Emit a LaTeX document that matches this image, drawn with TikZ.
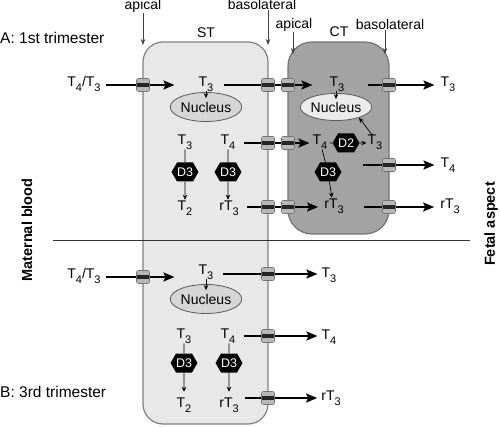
\documentclass[tikz,border=0pt]{standalone}
\usepackage{fontspec}
\setmainfont{Liberation Sans}
\usetikzlibrary{shapes.geometric,shapes.symbols,arrows.meta}
\newcommand\mysub[1]{\raisebox{-4.5pt}{\fontsize{11}{11}\selectfont #1}}
\pgfdeclarelayer{back}\pgfdeclarelayer{mid}
\pgfsetlayers{back,mid,main}
\begin{document}
\begin{tikzpicture}[x=1pt,y=-1pt,
  txt/.style={font=\fontsize{14}{16}\selectfont, inner sep=0pt},
  big/.style={font=\fontsize{15.5}{17}\selectfont, inner sep=0pt},
  side/.style={font=\fontsize{14.5}{16}\selectfont\bfseries, inner sep=0pt, rotate=90},
  cellST/.style={draw=black!50, fill=black!9, line width=1.2pt, rounded corners=20pt},
  cellCT/.style={draw=black!55, fill=black!36, line width=1.2pt, rounded corners=24pt},
  nucST/.style={ellipse, draw=black!65, fill=black!16, line width=0.8pt, minimum width=63pt, minimum height=29pt, inner sep=0pt, font=\fontsize{14}{16}\selectfont},
  nucCT/.style={nucST, fill=black!8, minimum width=56pt, minimum height=27pt},
  trans/.style={draw=black!55, fill=black!28, rounded corners=2pt, minimum width=13pt, minimum height=13pt, inner sep=0pt, line width=0.6pt,
    path picture={\fill[black!85, sharp corners] ([yshift=-2pt]path picture bounding box.west) rectangle ([yshift=2pt]path picture bounding box.east);}},
  enz/.style={signal, signal to=east and west, signal pointer angle=120, fill=black, text=white, minimum width=24pt, minimum height=19pt, inner sep=0pt, font=\fontsize{12.5}{12.5}\selectfont},
  arr/.style={line width=1.8pt, -{Stealth[length=11pt,width=9pt,inset=2pt]}},
  sarr/.style={line width=0.7pt, -{Stealth[length=5pt,width=4.5pt]}},
  thinl/.style={line width=0.7pt},
  lblarr/.style={line width=0.8pt, draw=black!75, -{Stealth[length=6pt,width=4.5pt]}},
]
\useasboundingbox (0,0) rectangle (500,427);

% cells
\begin{pgfonlayer}{back}
  \draw[cellST] (143,42) rectangle (268,424);
  \draw[cellCT] (288,42) rectangle (389,234);
\end{pgfonlayer}

% row coordinates
\coordinate (r1) at (0,85);
\coordinate (r2) at (0,143);
\coordinate (r3) at (363,165);
\coordinate (r4) at (0,207);
\coordinate (r5a) at (0,277);
\coordinate (r5b) at (0,274);
\coordinate (r6) at (0,336);
\coordinate (r7) at (0,398);

% labels
\node[txt] (ap1) at (143,6) {apical};
\coordinate (ap1e) at (143,45);
\node[txt] (bl1) at (262,5) {basolateral};
\coordinate (bl1e) at (268,45);
\node[txt] (ap2) at (294,25) {apical};
\coordinate (ap2e) at (293,54);
\node[txt] (bl2) at (390,25) {basolateral};
\coordinate (bl2e) at (385,54);
\node[txt] (stl) at (206,33) {ST};
\node[txt] (ctl) at (339,32) {CT};
\node[big, anchor=west] (la) at (0,38) {A: 1st trimester};
\node[big, anchor=west] (lb) at (0,392) {B: 3rd trimester};
\node[side] (mb) at (27,230) {Maternal blood};
\node[side] (fa) at (491,224) {Fetal aspect};

% ---- A: first trimester ----
\node[txt] (tA) at (84,84) {T\mysub4/T\mysub3};
\node[txt] (st3a) at (206,84) {T\mysub3};
\node[txt] (ct3a) at (337,84) {T\mysub3};
\node[txt] (o3a) at (448,84) {T\mysub3};
\node[nucST] (stn1) at (206,107) {Nucleus};
\node[nucCT] (ctn1) at (336,107) {Nucleus};

\node[txt] (st3b) at (185,142) {T\mysub3};
\node[txt] (st4b) at (228,142) {T\mysub4};
\node[txt] (ct4b) at (320,142) {T\mysub4};
\node[enz] (d2) at (346,143) {D2};
\node[txt] (ct3b) at (375,142) {T\mysub3};
\node[txt] (o4a) at (448,165) {T\mysub4};

\node[enz] (d3a) at (185,172) {D3};
\node[enz] (d3b) at (228,172) {D3};
\node[enz] (d3c) at (328,172) {D3};

\node[txt] (st2) at (185,208) {T\mysub2};
\node[txt] (str3) at (229,208) {rT\mysub3};
\node[txt] (ctr3) at (334,206) {rT\mysub3};
\node[txt] (or3) at (450,206) {rT\mysub3};

% ---- B: third trimester ----
\node[txt] (tB) at (84,276) {T\mysub4/T\mysub3};
\node[txt] (st3d) at (206,272) {T\mysub3};
\node[txt] (o3d) at (329,275) {T\mysub3};
\node[nucST] (stn2) at (206,299) {Nucleus};
\node[txt] (st3e) at (184,336) {T\mysub3};
\node[txt] (st4e) at (228,336) {T\mysub4};
\node[txt] (o4e) at (329,337) {T\mysub4};
\node[enz] (d3e) at (184,363) {D3};
\node[enz] (d3f) at (229,363) {D3};
\node[txt] (st2e) at (184,405) {T\mysub2};
\node[txt] (str3e) at (229,405) {rT\mysub3};
\node[txt] (or3e) at (331,398) {rT\mysub3};

% transporters
\node[trans] (pa1) at (143,85) {};
\node[trans] (pa2) at (268,85) {};
\node[trans] (pa3) at (288,85) {};
\node[trans] (pa4) at (389,85) {};
\node[trans] (pb2) at (268,143) {};
\node[trans] (pb3) at (288,143) {};
\node[trans] (pc4) at (389,165) {};
\node[trans] (pd2) at (268,207) {};
\node[trans] (pd3) at (288,207) {};
\node[trans] (pd4) at (389,207) {};
\node[trans] (pe1) at (143,277) {};
\node[trans] (pe2) at (268,274) {};
\node[trans] (pf2) at (268,336) {};
\node[trans] (pg2) at (268,398) {};

% small arrows into nuclei (on top of nuclei)
\draw[sarr] (st3a.south -| stn1) -- ([yshift=-6pt]stn1.north);
\draw[sarr] (ct3a.south -| ctn1) -- ([yshift=-6pt]ctn1.north);
\draw[sarr] ([xshift=-3pt]ct3b.north) -- (ctn1.-25);
\draw[sarr] (st3d.south -| stn2) -- ([yshift=-6pt]stn2.north);

\begin{pgfonlayer}{mid}
  \draw[black!80, line width=0.8pt] (53,240) -- (470,240);
  % label arrows
  \draw[lblarr] (ap1.south) -- (ap1e);
  \draw[lblarr] (bl1.south -| bl1e) -- (bl1e);
  \draw[lblarr] (ap2.south -| ap2e) -- (ap2e);
  \draw[lblarr] (bl2.south -| bl2e) -- (bl2e);
  % A row 1
  \draw[arr, shorten <=5pt, shorten >=24pt] (tA.east |- r1) -- (st3a.west |- r1);
  \draw[arr, shorten <=10pt, shorten >=17pt] (st3a.east |- r1) -- (ct3a.west |- r1);
  \draw[arr, shorten <=23pt, shorten >=6pt] (ct3a.east |- r1) -- (o3a.west |- r1);
  % A row 2
  \draw[arr, shorten <=8pt, shorten >=3pt] (st4b.east |- r2) -- (ct4b.west |- r2);
  \draw[thinl, shorten <=2pt] (ct4b.east |- d2) -- (d2);
  \draw[sarr, shorten >=1pt] (d2) -- (ct3b.west |- d2);
  \draw[arr, shorten >=6pt] (r3) -- (o4a.west |- r3);
  % D3 paths
  \draw[thinl] (st3b.south -| d3a) -- (d3a);
  \draw[sarr, shorten >=1pt] (d3a) -- (st2.north);
  \draw[thinl] (st4b.south -| d3b) -- (d3b);
  \draw[sarr, shorten >=1pt] (d3b) -- (str3.north -| d3b);
  \draw[thinl] ([xshift=2pt]ct4b.south) -- (d3c);
  \draw[sarr, shorten >=1pt] (d3c) -- ([xshift=-2pt]ctr3.north);
  % A row 4
  \draw[arr, shorten <=8pt, shorten >=6pt] (str3.east |- r4) -- (ctr3.west |- r4);
  \draw[arr, shorten <=20pt, shorten >=6pt] (ctr3.east |- r4) -- (or3.west |- r4);
  % B
  \draw[arr, shorten <=5pt, shorten >=24pt] (tB.east |- r5a) -- (st3d.west |- r5a);
  \draw[arr, shorten <=9pt, shorten >=4pt] (st3d.east |- r5b) -- (o3d.west |- r5b);
  \draw[thinl] (st3e.south -| d3e) -- (d3e);
  \draw[sarr, shorten >=6pt] (d3e) -- (st2e.north);
  \draw[thinl] (st4e.south -| d3f) -- (d3f);
  \draw[sarr, shorten >=6pt] (d3f) -- (str3e.north -| d3f);
  \draw[arr, shorten <=8pt, shorten >=4pt] (st4e.east |- r6) -- (o4e.west |- r6);
  \draw[arr, shorten <=6pt, shorten >=4pt] (str3e.east |- r7) -- (or3e.west |- r7);
\end{pgfonlayer}
\end{tikzpicture}
\end{document}
